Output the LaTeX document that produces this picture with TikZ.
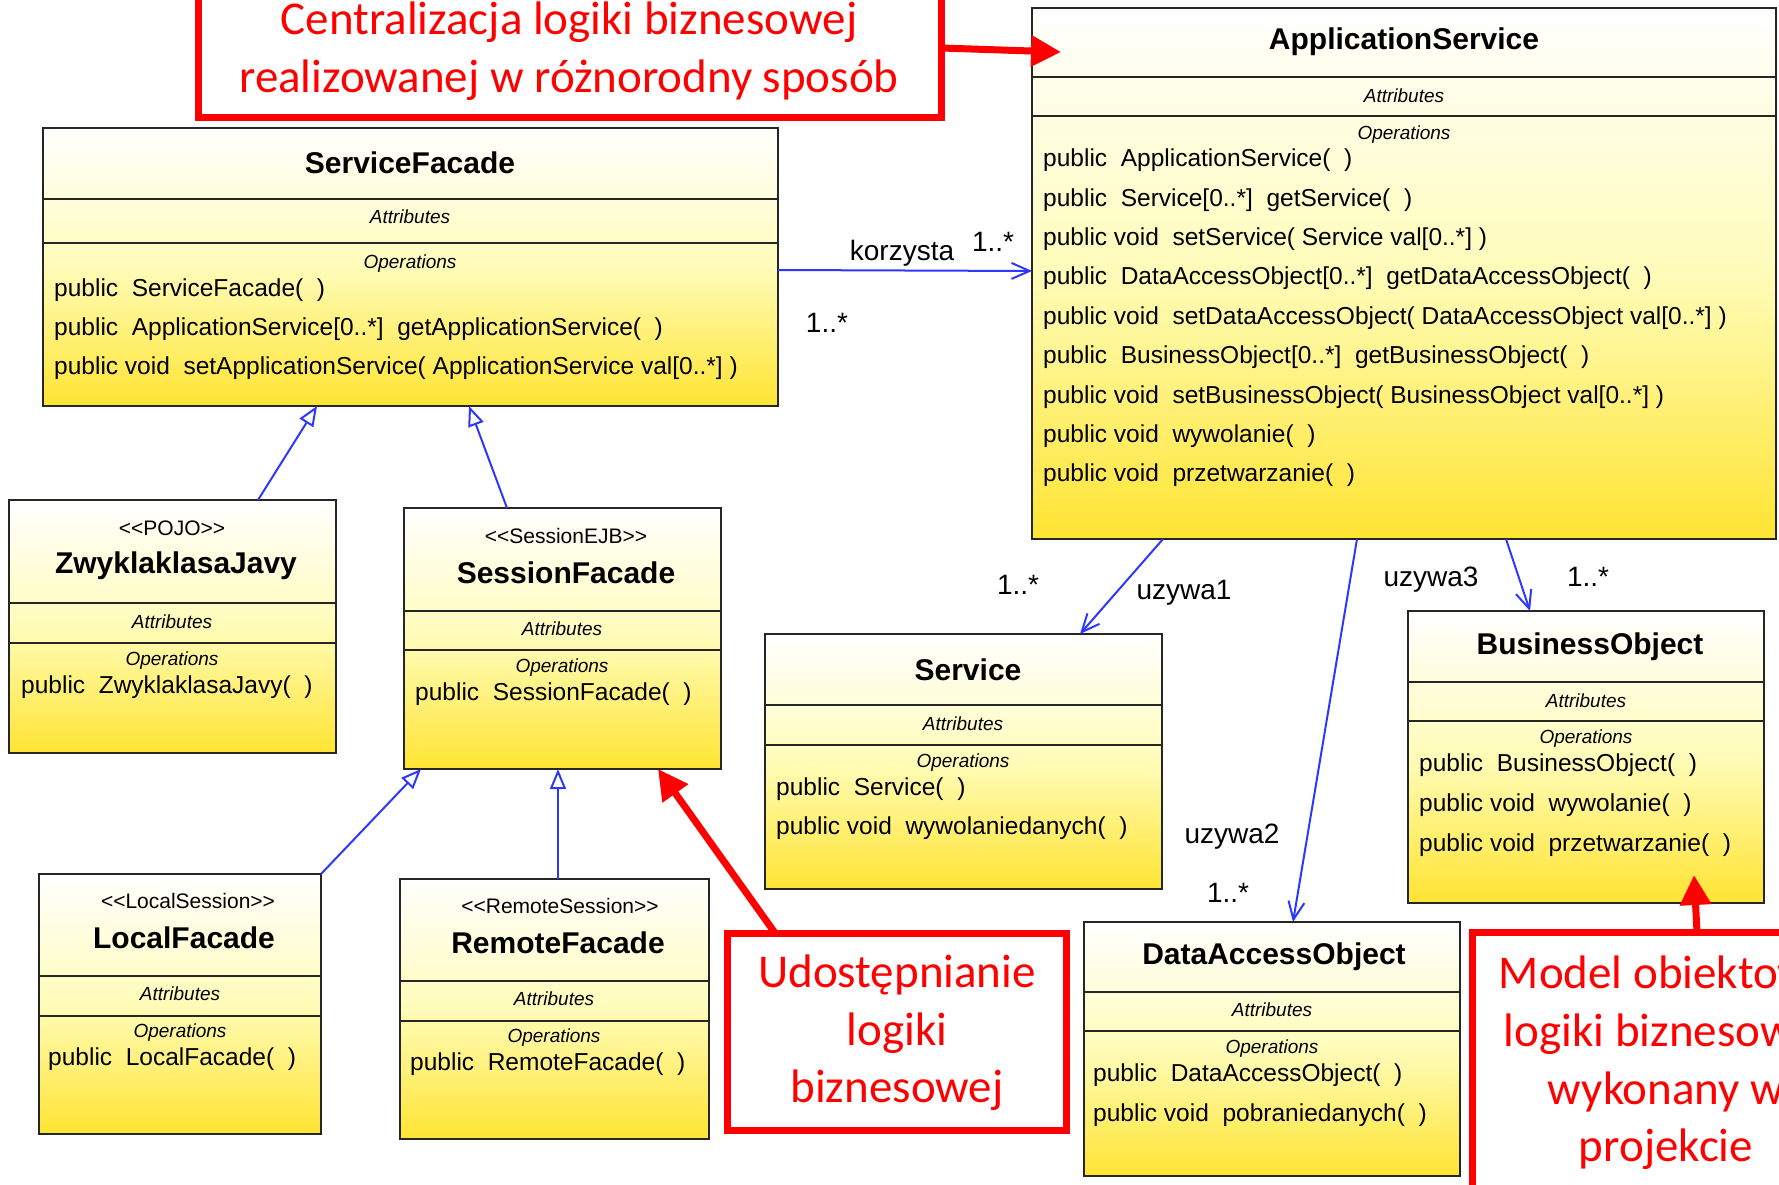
\documentclass[tikz,border=0pt]{standalone}
\usepackage{fontspec}
\setmainfont{Liberation Sans}
\newfontfamily\calib{Carlito}
\usetikzlibrary{arrows.meta}

\definecolor{umlyellow}{RGB}{255,228,50}
\definecolor{umlpale}{RGB}{255,252,185}
\definecolor{umlblue}{RGB}{45,55,255}
\definecolor{notered}{RGB}{255,0,0}

\tikzset{
  classbox/.style={rectangle, draw=black!85, line width=2.2pt, top color=white,
    bottom color=umlyellow, middle color=umlpale, inner sep=0pt, outer sep=0pt},
  compline/.style={draw=black!85, line width=2.2pt},
  ctitle/.style={font=\fontsize{30}{34}\selectfont\bfseries, inner sep=0pt},
  stereo/.style={font=\fontsize{21}{24}\selectfont, inner sep=0pt},
  compname/.style={font=\fontsize{19}{22}\selectfont\itshape, inner sep=0pt},
  op/.style={font=\fontsize{24.5}{28}\selectfont, anchor=west, inner sep=0pt},
  assoc/.style={draw=umlblue, line width=2pt, -{Straight Barb[length=18pt,width=16pt]}},
  gen/.style={draw=umlblue, line width=2pt, -{Triangle[length=20pt,width=16pt,fill=white]}},
  lbl/.style={font=\fontsize{28}{32}\selectfont, inner sep=0pt},
  notebox/.style={rectangle, draw=notered, line width=7pt, fill=white, inner sep=0pt, outer sep=0pt},
  notetext/.style={font=\calib\fontsize{47}{57.6}\selectfont, text=notered, align=center, inner sep=0pt},
  notearrow/.style={draw=notered, line width=7pt, -{Triangle[length=30pt,width=30pt]}},
}

% class box: name, x1, y1, x2, y2, first and second compartment lines
\newcommand\umlclass[7]{%
  \node[classbox, anchor=north west, minimum width={(#4-#2)*1pt},
        minimum height={(#5-#3)*1pt}] (#1) at (#2,#3) {};
  \draw[compline] (#2,#6) -- (#4,#6);
  \draw[compline] (#2,#7) -- (#4,#7);
}

\begin{document}
\begin{tikzpicture}[x=1pt,y=-1pt]
\useasboundingbox (0,0) rectangle (1779,1185);
\clip (0,0) rectangle (1779,1185);

% ---------- ApplicationService ----------
\umlclass{as}{1032}{8}{1776}{539}{77}{116}
\node[ctitle] (as-t) at (1404,42) {ApplicationService};
\node[compname] (as-a) at (1404,96) {Attributes};
\node[compname] (as-o) at (1404,135) {Operations};
\node[op] (as-1) at (1043,160) {public\ \ ApplicationService(\ \ )};
\node[op] (as-2) at (1043,200) {public\ \ Service[0..*]\ \ getService(\ \ )};
\node[op] (as-3) at (1043,239) {public void\ \ setService( Service val[0..*] )};
\node[op] (as-4) at (1043,278) {public\ \ DataAccessObject[0..*]\ \ getDataAccessObject(\ \ )};
\node[op] (as-5) at (1043,318) {public void\ \ setDataAccessObject( DataAccessObject val[0..*] )};
\node[op] (as-6) at (1043,357) {public\ \ BusinessObject[0..*]\ \ getBusinessObject(\ \ )};
\node[op] (as-7) at (1043,397) {public void\ \ setBusinessObject( BusinessObject val[0..*] )};
\node[op] (as-8) at (1043,436) {public void\ \ wywolanie(\ \ )};
\node[op] (as-9) at (1043,475) {public void\ \ przetwarzanie(\ \ )};

% ---------- ServiceFacade ----------
\umlclass{sf}{43}{128}{778}{406}{199}{243}
\node[ctitle] (sf-t) at (410,163) {ServiceFacade};
\node[compname] (sf-a) at (410,217) {Attributes};
\node[compname] (sf-o) at (410,264) {Operations};
\node[op] (sf-1) at (54,290) {public\ \ ServiceFacade(\ \ )};
\node[op] (sf-2) at (54,329) {public\ \ ApplicationService[0..*]\ \ getApplicationService(\ \ )};
\node[op] (sf-3) at (54,368) {public void\ \ setApplicationService( ApplicationService val[0..*] )};

% ---------- ZwyklaklasaJavy ----------
\umlclass{zk}{9}{500}{336}{753}{603}{643}
\node[stereo] (zk-s) at (172,528) {<\kern0pt<POJO>\kern0pt>};
\node[ctitle] (zk-t) at (176,566) {ZwyklaklasaJavy};
\node[compname] (zk-a) at (172,622) {Attributes};
\node[compname] (zk-o) at (172,661) {Operations};
\node[op] (zk-1) at (21,687) {public\ \ ZwyklaklasaJavy(\ \ )};

% ---------- SessionFacade ----------
\umlclass{sess}{404}{508}{721}{769}{611}{650}
\node[stereo] (sess-s) at (566,536) {<\kern0pt<SessionEJB>\kern0pt>};
\node[ctitle] (sess-t) at (566,573) {SessionFacade};
\node[compname] (sess-a) at (562,629) {Attributes};
\node[compname] (sess-o) at (562,668) {Operations};
\node[op] (sess-1) at (415,694) {public\ \ SessionFacade(\ \ )};

% ---------- LocalFacade ----------
\umlclass{lf}{39}{874}{321}{1134}{976}{1016}
\node[stereo] (lf-s) at (188,901) {<\kern0pt<LocalSession>\kern0pt>};
\node[ctitle] (lf-t) at (184,938) {LocalFacade};
\node[compname] (lf-a) at (180,994) {Attributes};
\node[compname] (lf-o) at (180,1033) {Operations};
\node[op] (lf-1) at (48,1059) {public\ \ LocalFacade(\ \ )};

% ---------- RemoteFacade ----------
\umlclass{rf}{400}{879}{709}{1139}{981}{1021}
\node[stereo] (rf-s) at (560,906) {<\kern0pt<RemoteSession>\kern0pt>};
\node[ctitle] (rf-t) at (558,943) {RemoteFacade};
\node[compname] (rf-a) at (554,999) {Attributes};
\node[compname] (rf-o) at (554,1038) {Operations};
\node[op] (rf-1) at (410,1064) {public\ \ RemoteFacade(\ \ )};

% ---------- Service ----------
\umlclass{srv}{765}{634}{1162}{889}{705}{745}
\node[ctitle] (srv-t) at (968,670) {Service};
\node[compname] (srv-a) at (963,724) {Attributes};
\node[compname] (srv-o) at (963,763) {Operations};
\node[op] (srv-1) at (776,789) {public\ \ Service(\ \ )};
\node[op] (srv-2) at (776,828) {public void\ \ wywolaniedanych(\ \ )};

% ---------- BusinessObject ----------
\umlclass{bo}{1408}{611}{1764}{903}{682}{721}
\node[ctitle] (bo-t) at (1590,647) {BusinessObject};
\node[compname] (bo-a) at (1586,701) {Attributes};
\node[compname] (bo-o) at (1586,739) {Operations};
\node[op] (bo-1) at (1419,765) {public\ \ BusinessObject(\ \ )};
\node[op] (bo-2) at (1419,805) {public void\ \ wywolanie(\ \ )};
\node[op] (bo-3) at (1419,845) {public void\ \ przetwarzanie(\ \ )};

% ---------- DataAccessObject ----------
\umlclass{dao}{1084}{922}{1460}{1176}{992}{1031}
\node[ctitle] (dao-t) at (1274,957) {DataAccessObject};
\node[compname] (dao-a) at (1272,1010) {Attributes};
\node[compname] (dao-o) at (1272,1049) {Operations};
\node[op] (dao-1) at (1093,1075) {public\ \ DataAccessObject(\ \ )};
\node[op] (dao-2) at (1093,1115) {public void\ \ pobraniedanych(\ \ )};

% ---------- generalisations ----------
\draw[gen] ([xshift=249pt]zk.north west) -- ([xshift=274pt]sf.south west);
\draw[gen] ([xshift=103pt]sess.north west) -- ([xshift=426pt]sf.south west);
\draw[gen] (lf.north east) -- ([xshift=17pt]sess.south west);
\draw[gen] ([xshift=158pt]rf.north west) -- ([xshift=154pt]sess.south west);

% ---------- associations ----------
\draw[assoc] ([yshift=-142pt]sf.north east) -- ([yshift=-263pt]as.north west);
\node[lbl] (l-korz) at (902,253) {korzysta};
\node[lbl] (m-korz1) at (993,242) {1..*};
\node[lbl] (m-korz2) at (827,323) {1..*};

\draw[assoc] ([xshift=131pt]as.south west) -- ([xshift=315pt]srv.north west);
\node[lbl] (l-u1) at (1184,593) {uzywa1};
\node[lbl] (m-u1) at (1018,585) {1..*};

\draw[assoc] ([xshift=325pt]as.south west) -- ([xshift=209pt]dao.north west);
\node[lbl] (l-u2) at (1232,837) {uzywa2};
\node[lbl] (m-u2) at (1228,893) {1..*};

\draw[assoc] ([xshift=474pt]as.south west) -- ([xshift=122pt]bo.north west);
\node[lbl] (l-u3) at (1431,580) {uzywa3};
\node[lbl] (m-u3) at (1588,577) {1..*};

% ---------- notes ----------
\node[notebox, anchor=north west, minimum width=743pt, minimum height=140pt] (tbox) at (198,-22) {};
\node[notetext] (tbox-x) at (569,51) {Centralizacja logiki biznesowej\\realizowanej w różnorodny sposób};
\draw[notearrow] (tbox.east) -- ([xshift=29pt,yshift=-44pt]as.north west);

\node[notebox, anchor=north west, minimum width=339pt, minimum height=197pt] (ubox) at (727,933) {};
\node[notetext] (ubox-x) at (897,1033) {Udostępnianie\\logiki\\biznesowej};
\draw[notearrow] ([xshift=48pt]ubox.north west) -- ([xshift=254pt]sess.south west);

% this note runs past the right edge of the sheet
\node[notebox, anchor=north west, minimum width=388pt, minimum height=280pt] (mbox) at (1472,932) {};
\node[notetext] (mbox-x) at (1666,1063) {Model obiektowy\\logiki biznesowej\\wykonany w\\projekcie};
\draw[notearrow] ([xshift=225pt]mbox.north west) -- ([xshift=286pt,yshift=28pt]bo.south west);

\end{tikzpicture}
\end{document}
